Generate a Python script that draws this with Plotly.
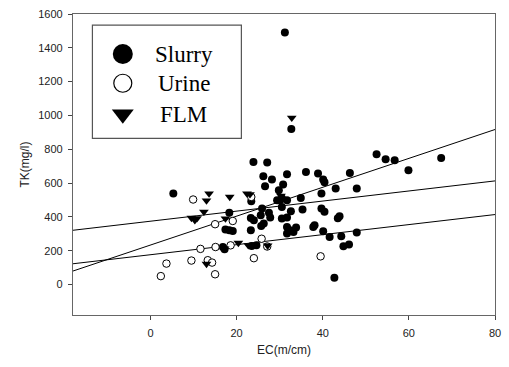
import plotly.graph_objects as go

# ---- data ----
slurry_x = [5.3, 31.2, 32.7, 23.9, 27.1, 26.2, 28.2, 31.7, 36.1, 38.9, 40.1, 40.4, 46.3,
            26.6, 30.8, 29.8, 29.4, 30.1, 31.7, 34.9, 39.7, 43.0, 47.9, 30.5, 32.6, 35.3,
            39.7, 40.4, 25.9, 27.5, 25.6, 23.3, 24.0, 27.8, 30.5, 31.7, 25.7, 26.3, 31.7,
            32.4, 33.8, 33.2, 31.7, 37.8, 38.1, 40.1, 41.6, 44.3, 43.9, 43.5, 44.8, 46.1,
            47.9, 42.7, 18.3, 17.4, 18.3, 19.1, 23.3, 17.2, 16.8, 24.6, 23.4, 52.5, 54.6,
            56.7, 59.9, 67.5, 23.5, 30.5]
slurry_y = [538, 1491, 920, 725, 722, 641, 621, 653, 666, 657, 621, 605, 660,
            582, 592, 558, 499, 499, 499, 512, 538, 568, 568, 459, 434, 444,
            450, 430, 450, 424, 410, 394, 380, 396, 390, 396, 347, 361, 341,
            321, 337, 311, 302, 341, 351, 315, 282, 286, 404, 392, 227, 237,
            308, 40, 424, 325, 321, 317, 321, 209, 222, 233, 492, 771, 741,
            735, 676, 749, 228, 510]

urine_x = [9.9, 15.0, 19.1, 23.4, 11.6, 15.1, 18.6, 25.8, 27.1, 24.0, 39.5, 9.5, 13.3,
           14.3, 3.7, 2.4, 15.0]
urine_y = [503, 357, 376, 518, 211, 222, 232, 271, 225, 156, 167, 142, 144,
           130, 124, 50, 61]

flm_x = [13.6, 13.0, 12.4, 9.5, 10.3, 10.8, 18.4, 22.4, 23.1, 17.4, 20.4, 17.2, 22.7,
         27.2, 13.0, 32.8, 30.3]
flm_y = [538, 497, 430, 394, 380, 392, 518, 538, 534, 390, 246, 213, 232,
         230, 122, 986, 525]

# regression lines (end values read at the axis edges)
line_x = [-18, 80]
line_a = [321, 613]
line_b = [123, 414]
line_c = [80, 917]

x_ticks = [0, 20, 40, 60, 80]
y_ticks = [0, 200, 400, 600, 800, 1000, 1200, 1400, 1600]

legend_names = ["Slurry", "Urine", "FLM"]

fig = go.Figure()

for ly in (line_a, line_b, line_c):
    fig.add_trace(go.Scatter(x=line_x, y=ly, mode="lines",
                             line=dict(color="black", width=1), showlegend=False,
                             hoverinfo="skip"))

fig.add_trace(go.Scatter(x=slurry_x, y=slurry_y, mode="markers", name="Slurry",
                         marker=dict(symbol="circle", size=8, color="black",
                                     line=dict(width=0)), showlegend=False))
fig.add_trace(go.Scatter(x=urine_x, y=urine_y, mode="markers", name="Urine",
                         marker=dict(symbol="circle", size=7.5, color="white",
                                     line=dict(color="black", width=1)), showlegend=False))
fig.add_trace(go.Scatter(x=flm_x, y=flm_y, mode="markers", name="FLM",
                         marker=dict(symbol="triangle-down", size=8.5, color="black",
                                     line=dict(width=0)), showlegend=False))

# ---- hand-drawn legend (paper coordinates of the plot area) ----
leg_mx = 0.118
leg_my = [0.867, 0.770, 0.667]
leg_sym = ["circle", "circle", "triangle-down"]
leg_fill = ["black", "white", "black"]
leg_size = [20, 18, 19]
for i in range(3):
    fig.add_trace(go.Scatter(x=[leg_mx], y=[leg_my[i]], xaxis="x2", yaxis="y2",
                             mode="markers", showlegend=False, hoverinfo="skip",
                             marker=dict(symbol=leg_sym[i], size=leg_size[i],
                                         color=leg_fill[i],
                                         line=dict(color="black", width=1.2 if i == 1 else 0))))
    fig.add_annotation(x=0.2625, y=leg_my[i], xref="paper", yref="paper",
                       text=legend_names[i], showarrow=False, xanchor="center",
                       yanchor="middle",
                       font=dict(family="Liberation Serif", size=23, color="black"))

fig.add_shape(type="rect", xref="paper", yref="paper", x0=0.046, x1=0.399,
              y0=0.587, y1=0.963, line=dict(color="#555555", width=1.2),
              fillcolor="rgba(0,0,0,0)")

axis_common = dict(showgrid=False, zeroline=False, showline=True, mirror=True,
                   linecolor="#666666", linewidth=1.3, ticks="outside", ticklen=4,
                   tickwidth=1, tickcolor="#444444",
                   tickfont=dict(family="Liberation Sans", size=11, color="#222222"))

fig.update_layout(
    width=509, height=367,
    margin=dict(l=73, r=8, t=14, b=52.3),
    paper_bgcolor="white", plot_bgcolor="white",
    xaxis=dict(range=[-18, 80], tickvals=x_ticks, ticklabelstandoff=4,
               title=dict(text="EC(m/cm)", standoff=7,
                          font=dict(family="Liberation Sans", size=12, color="#222222")),
               **axis_common),
    yaxis=dict(range=[-180, 1600], tickvals=y_ticks, ticklabelstandoff=3,
               title=dict(text="TK(mg/l)", standoff=5,
                          font=dict(family="Liberation Sans", size=12, color="#222222")),
               **axis_common),
    xaxis2=dict(overlaying="x", range=[0, 1], visible=False),
    yaxis2=dict(overlaying="y", range=[0, 1], visible=False),
    showlegend=False,
)

fig.write_html("out.html")
